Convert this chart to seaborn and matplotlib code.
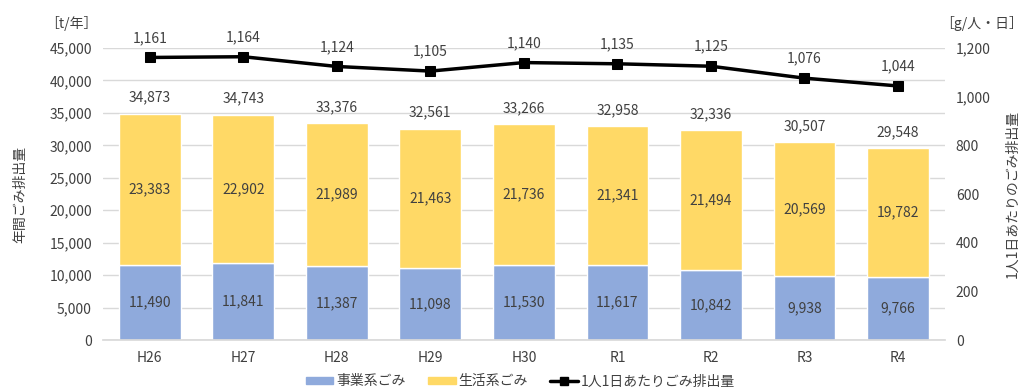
import matplotlib
matplotlib.use("Agg")
import matplotlib.pyplot as plt
import seaborn as sns
import pandas as pd
import numpy as np
from matplotlib.lines import Line2D
from matplotlib.patches import Patch

years = ["H26", "H27", "H28", "H29", "H30", "R1", "R2", "R3", "R4"]
jigyo = [11490, 11841, 11387, 11098, 11530, 11617, 10842, 9938, 9766]
seikatsu = [23383, 22902, 21989, 21463, 21736, 21341, 21494, 20569, 19782]
totals = [34873, 34743, 33376, 32561, 33266, 32958, 32336, 30507, 29548]
per_person = [1161, 1164, 1124, 1105, 1140, 1135, 1125, 1076, 1044]

sns.set_theme(style="white")
plt.rcParams['font.family'] = ['Noto Sans CJK JP', 'DejaVu Sans']

blue = "#8FAADC"
yellow = "#FFD966"
txt = "#404040"

df = pd.DataFrame({"year": years, "jigyo": jigyo, "seikatsu": seikatsu,
                   "total": totals, "pp": per_person})

fig = plt.figure(figsize=(10.24, 3.9), dpi=100)
ax = fig.add_axes([0.1006, 0.128, 0.822, 0.749])

sns.barplot(data=df, x="year", y="jigyo", color=blue, width=0.66, ax=ax,
            saturation=1, zorder=2)
sns.barplot(data=df, x="year", y="seikatsu", color=yellow, width=0.66, ax=ax,
            saturation=1, bottom=df["jigyo"], zorder=2)

ax.set_ylim(0, 45000)
ax.set_yticks(np.arange(0, 45001, 5000))
ax.set_yticklabels([f"{v:,}" for v in range(0, 45001, 5000)])
ax.yaxis.grid(True, color="#D9D9D9", linewidth=1, zorder=0)
ax.set_axisbelow(True)
for s in ["top", "right", "left"]:
    ax.spines[s].set_visible(False)
ax.spines["bottom"].set_color("#D9D9D9")
ax.tick_params(axis="both", length=0, labelsize=10, colors=txt, pad=8)
ax.set_xlabel("")
ax.set_ylabel("年間ごみ排出量", fontsize=10, color=txt, labelpad=16)
ax.set_xlim(-0.5, len(years) - 0.5)

for i in range(len(years)):
    ax.text(i, jigyo[i] / 2, f"{jigyo[i]:,}", ha="center", va="center",
            fontsize=10, color=txt)
    ax.text(i, jigyo[i] + seikatsu[i] / 2, f"{seikatsu[i]:,}", ha="center",
            va="center", fontsize=10, color=txt)
    ax.text(i, totals[i] + 1400, f"{totals[i]:,}", ha="center", va="bottom",
            fontsize=10, color=txt)

ax2 = ax.twinx()
sns.lineplot(x=np.arange(len(years)), y=per_person, ax=ax2, color="black",
             linewidth=2.5, marker="s", markersize=7, markeredgecolor="black")
ax2.set_ylim(0, 1200)
ax2.set_yticks(np.arange(0, 1201, 200))
ax2.set_yticklabels([f"{v:,}" for v in range(0, 1201, 200)])
for s in ["top", "right", "left", "bottom"]:
    ax2.spines[s].set_visible(False)
ax2.tick_params(axis="y", length=0, labelsize=10, colors=txt, pad=8)
ax2.set_ylabel("1人1日あたりのごみ排出量", fontsize=10, color=txt,
               labelpad=11, rotation=90)
for i in range(len(years)):
    ax2.text(i, per_person[i] + 52, f"{per_person[i]:,}", ha="center",
             va="bottom", fontsize=10, color=txt)

fig.text(0.044, 0.94, "［t/年］", fontsize=10, color=txt, va="center")
fig.text(0.918, 0.94, "［g/人・日］", fontsize=10, color=txt, va="center")

handles = [Patch(color=blue), Patch(color=yellow),
           Line2D([0], [0], color="black", linewidth=2.5, marker="s", markersize=6)]
labels = ["事業系ごみ", "生活系ごみ", "1人1日あたりごみ排出量"]
fig.legend(handles, labels, loc="center", bbox_to_anchor=(0.508, 0.022), ncol=3,
           frameon=False, fontsize=10, handlelength=2.0, handleheight=0.45,
           handletextpad=0.2, columnspacing=1.6, labelcolor=txt)

fig.savefig("out.png", dpi=100)
